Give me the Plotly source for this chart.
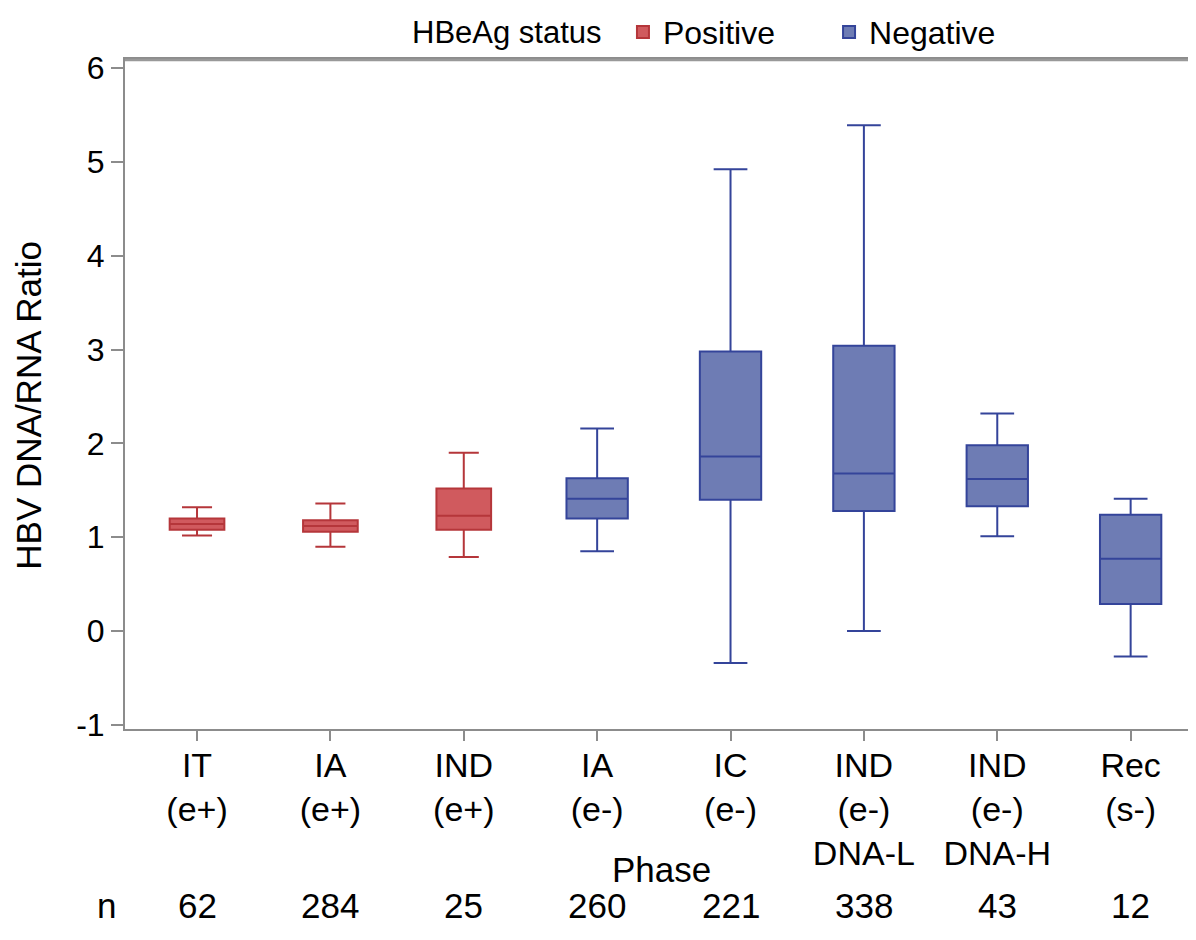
import plotly.graph_objects as go

# phases on the x axis, split by HBeAg status
pos_phase = ["IT<br>(e+)", "IA<br>(e+)", "IND<br>(e+)"]
neg_phase = ["IA<br>(e-)", "IC<br>(e-)", "IND<br>(e-)<br>DNA-L", "IND<br>(e-)<br>DNA-H", "Rec<br>(s-)"]
all_phase = pos_phase + neg_phase
n_counts = [62, 284, 25, 260, 221, 338, 43, 12]

# box statistics (HBV DNA/RNA ratio)
pos_low = [1.02, 0.90, 0.79]
pos_q1 = [1.08, 1.06, 1.08]
pos_med = [1.14, 1.12, 1.23]
pos_q3 = [1.20, 1.18, 1.52]
pos_high = [1.32, 1.36, 1.90]

neg_low = [0.85, -0.34, 0.00, 1.01, -0.27]
neg_q1 = [1.20, 1.40, 1.28, 1.33, 0.29]
neg_med = [1.41, 1.86, 1.68, 1.62, 0.77]
neg_q3 = [1.63, 2.98, 3.04, 1.98, 1.24]
neg_high = [2.16, 4.92, 5.39, 2.32, 1.41]

y_ticks = [-1, 0, 1, 2, 3, 4, 5, 6]

FONT = "Liberation Sans, Arial, sans-serif"
AXIS_GRAY = "#8c8c8c"

fig = go.Figure()
fig.add_trace(go.Box(
    x=pos_phase, q1=pos_q1, median=pos_med, q3=pos_q3,
    lowerfence=pos_low, upperfence=pos_high, name="Positive",
    fillcolor="#d05a5e", line=dict(color="#b5363a", width=2),
    width=0.41, whiskerwidth=0.55, boxpoints=False,
    showlegend=True, legend="legend"))
fig.add_trace(go.Box(
    x=neg_phase, q1=neg_q1, median=neg_med, q3=neg_q3,
    lowerfence=neg_low, upperfence=neg_high, name="Negative",
    fillcolor="#6e7cb4", line=dict(color="#34449a", width=2),
    width=0.46, whiskerwidth=0.55, boxpoints=False,
    showlegend=True, legend="legend2"))

# n row under the axis
for ph, n in zip(all_phase, n_counts):
    fig.add_annotation(x=ph, y=-0.263, xref="x", yref="paper", text=str(n),
                       showarrow=False, yanchor="middle",
                       font=dict(size=35, color="black", family=FONT))
fig.add_annotation(x=-0.017, y=-0.263, xref="paper", yref="paper", text="n",
                   showarrow=False, yanchor="middle", xanchor="center",
                   font=dict(size=35, color="black", family=FONT))
fig.add_annotation(x=0.497, y=-0.21, xref="paper", yref="paper", text="Phase",
                   showarrow=False, yanchor="middle",
                   font=dict(size=35, color="black", family=FONT))
# y axis title
fig.add_annotation(x=-0.089, y=0.484, xref="paper", yref="paper",
                   text="HBV DNA/RNA Ratio", textangle=-90, showarrow=False,
                   xanchor="center", yanchor="middle",
                   font=dict(size=35, color="black", family=FONT))
# legend title
fig.add_annotation(x=0.264, y=1.040, xref="paper", yref="paper", text="HBeAg status",
                   showarrow=False, yanchor="middle", xanchor="left",
                   font=dict(size=31, color="black", family=FONT))

# top frame line (drawn slightly inside the top edge)
fig.add_shape(type="line", xref="paper", yref="paper", x0=0, x1=1,
              y0=0.9985, y1=0.9985, line=dict(color="#999999", width=2.5),
              layer="above")

legend_style = dict(orientation="h", y=1.040, xanchor="left", yanchor="middle",
                    bgcolor="rgba(0,0,0,0)", font=dict(size=32), itemwidth=30)

fig.update_layout(
    width=1196, height=940,
    margin=dict(l=117, r=0, t=51, b=219, autoexpand=False),
    paper_bgcolor="white", plot_bgcolor="white",
    boxmode="overlay", showlegend=True,
    font=dict(family=FONT, color="black"),
    legend=dict(x=0.4615, **legend_style),
    legend2=dict(x=0.6525, **legend_style),
    xaxis=dict(type="category", categoryorder="array", categoryarray=all_phase,
               range=[-0.54, 7.55], showline=True, mirror=True,
               linecolor=AXIS_GRAY, linewidth=2, ticks="outside", ticklen=10,
               tickcolor=AXIS_GRAY, tickwidth=1.5, ticklabelstandoff=-5,
               tickfont=dict(size=34, color="black"), showgrid=False, zeroline=False),
    yaxis=dict(range=[-1.043, 6.096], tickvals=y_ticks,
               ticktext=[str(v) for v in y_ticks],
               showline=True, linecolor=AXIS_GRAY, linewidth=2, ticks="outside",
               ticklen=12, tickcolor=AXIS_GRAY, tickwidth=1.5,
               tickfont=dict(size=32, color="black"), showgrid=False, zeroline=False),
)

fig.write_html("out.html")
